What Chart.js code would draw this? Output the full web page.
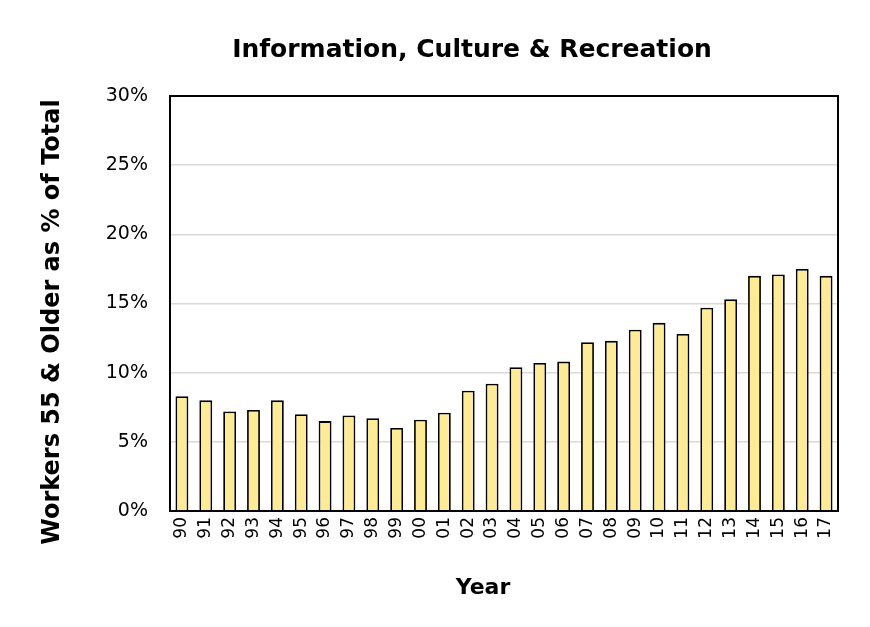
<!DOCTYPE html>
<html>
<head>
<meta charset="utf-8">
<script src="https://cdn.jsdelivr.net/npm/chart.js@4"></script>
<style>
  body { margin: 0; background: #fff; }
  #wrap { width: 870px; height: 627px; }
</style>
</head>
<body>
<div id="wrap"><canvas id="workersChart" width="870" height="627"></canvas></div>
<script>
// Share of workers aged 55+ in Information, Culture & Recreation, by year
const years = ["90", "91", "92", "93", "94", "95", "96", "97", "98", "99",
  "00", "01", "02", "03", "04", "05", "06", "07", "08", "09",
  "10", "11", "12", "13", "14", "15", "16", "17"];
const sharePct = [8.3, 8.0, 7.2, 7.3, 8.0, 7.0, 6.5, 6.9, 6.7, 6.0,
  6.6, 7.1, 8.7, 9.2, 10.4, 10.7, 10.8, 12.2, 12.3, 13.1,
  13.6, 12.8, 14.7, 15.3, 17.0, 17.1, 17.5, 17.0];
const yTicks = [0, 5, 10, 15, 20, 25, 30];

const chartTitle = "Information, Culture & Recreation";
const xTitle = "Year";
const yTitle = "Workers 55 & Older as % of Total";

const fontFamily = "'DejaVu Sans', sans-serif";

// black box round the plot area + the three titles
const frameAndTitles = {
  id: "frameAndTitles",
  afterDraw(chart) {
    const { ctx, chartArea: a } = chart;
    ctx.save();
    ctx.strokeStyle = "#000";
    ctx.lineWidth = 2;
    ctx.strokeRect(a.left, a.top, a.right - a.left, a.bottom - a.top);

    ctx.fillStyle = "#000";
    ctx.textAlign = "center";
    ctx.textBaseline = "middle";
    ctx.font = "bold 25px " + fontFamily;
    ctx.fillText(chartTitle, 472, 50);

    ctx.font = "bold 22px " + fontFamily;
    ctx.fillText(xTitle, 483, 588);

    ctx.translate(53, 322);
    ctx.rotate(-Math.PI / 2);
    ctx.font = "bold 24px " + fontFamily;
    ctx.fillText(yTitle, 0, 0);
    ctx.restore();
  },
};

const ctx = document.getElementById("workersChart").getContext("2d");
new Chart(ctx, {
  type: "bar",
  data: {
    labels: years,
    datasets: [
      {
        label: "Workers 55 & Older",
        data: sharePct,
        backgroundColor: "#FFEB94",
        borderColor: "#000",
        borderWidth: 1.8,
        barPercentage: 0.54,
        categoryPercentage: 1.0,
      },
    ],
  },
  options: {
    responsive: false,
    devicePixelRatio: 1,
    animation: false,
    layout: { padding: { left: 100, right: 32, top: 96, bottom: 56 } },
    plugins: {
      legend: { display: false },
      tooltip: { enabled: false },
      title: { display: false },
    },
    scales: {
      x: {
        grid: { display: false, drawTicks: false },
        border: { display: false },
        afterFit(scale) { scale.height = 60; },
        ticks: {
          color: "#000",
          padding: 6,
          maxRotation: 90,
          minRotation: 90,
          autoSkip: false,
          font: { family: fontFamily, size: 17 },
        },
      },
      y: {
        min: 0,
        max: 30,
        afterBuildTicks(axis) {
          axis.ticks = yTicks.map((v) => ({ value: v }));
        },
        afterFit(scale) { scale.width = 70; },
        grid: { color: "#d9d9d9", lineWidth: 1.5, drawTicks: false },
        border: { display: false },
        ticks: {
          color: "#000",
          padding: 22,
          font: { family: fontFamily, size: 19 },
          callback: (v) => v + "%",
        },
      },
    },
  },
  plugins: [frameAndTitles],
});
</script>
</body>
</html>
